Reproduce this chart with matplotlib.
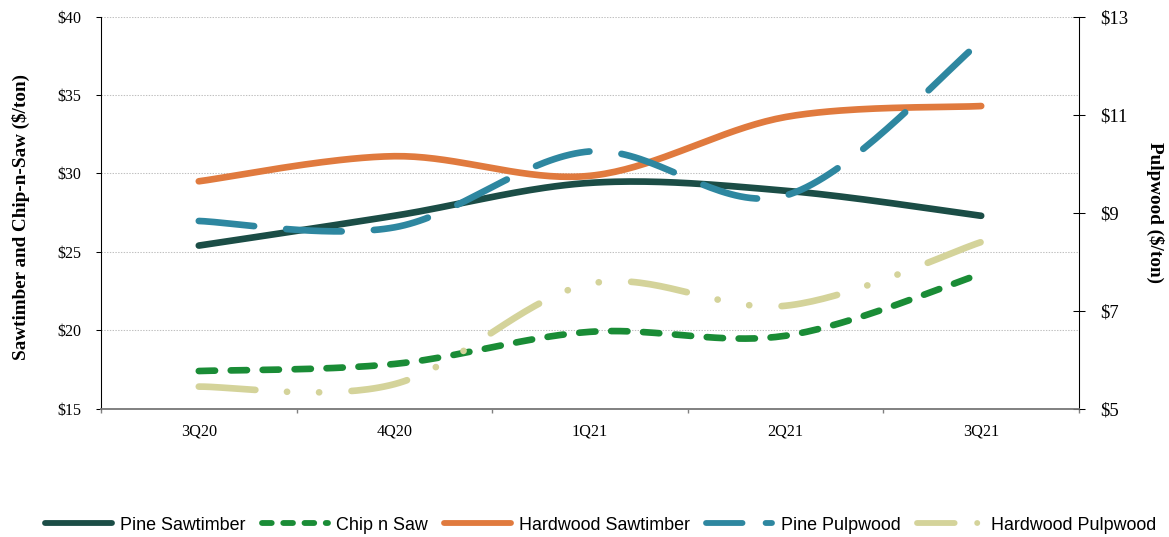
import numpy as np
import matplotlib.pyplot as plt
from matplotlib.lines import Line2D

plt.rcParams['lines.scale_dashes'] = False

quarters = ["3Q20", "4Q20", "1Q21", "2Q21", "3Q21"]

# $/ton, left axis
pine_sawtimber = [25.4, 27.3, 29.4, 28.9, 27.3]
chip_n_saw = [17.4, 17.85, 19.9, 19.65, 23.6]
hardwood_sawtimber = [29.5, 31.1, 29.85, 33.6, 34.3]

# $/ton, right axis
pine_pulpwood = [8.83, 8.7, 10.25, 9.35, 12.5]
hardwood_pulpwood = [5.45, 5.5, 7.55, 7.1, 8.4]


def smooth(vals, n=40):
    # bezier through the points, tangents from neighbouring points
    P = np.column_stack([np.arange(len(vals), dtype=float), np.asarray(vals, float)])
    Pe = np.vstack([P[0], P, P[-1]])
    t = np.linspace(0, 1, n)[:, None]
    out = []
    for i in range(len(P) - 1):
        p0, p3 = P[i], P[i + 1]
        p1 = p0 + (Pe[i + 2] - Pe[i]) / 6
        p2 = p3 - (Pe[i + 3] - Pe[i + 1]) / 6
        seg = (1 - t) ** 3 * p0 + 3 * (1 - t) ** 2 * t * p1 + 3 * (1 - t) * t ** 2 * p2 + t ** 3 * p3
        out.append(seg if i == 0 else seg[1:])
    c = np.vstack(out)
    return c[:, 0], c[:, 1]


c_pine_saw = "#1b4d46"
c_chip = "#1a8c36"
c_hard_saw = "#e07a3e"
c_pine_pulp = "#2e87a0"
c_hard_pulp = "#d4d39a"

chip_dash = (0, (11.7, 11.3))
pine_pulp_dash = (0, (40, 23.2))
hard_pulp_dash = (0, (40.8, 22.8, 0.1, 23, 0.1, 23.3))

lw = 4.8
serif = "Liberation Serif"

fig = plt.figure(figsize=(11.69, 5.37), dpi=100)
ax1 = fig.add_axes([0.0864, 0.239, 0.8366, 0.730])
ax2 = ax1.twinx()

kw = dict(lw=lw, solid_capstyle="round", dash_capstyle="round")
ax1.plot(*smooth(pine_sawtimber), color=c_pine_saw, **kw)
ax1.plot(*smooth(chip_n_saw), color=c_chip, linestyle=chip_dash, **kw)
ax1.plot(*smooth(hardwood_sawtimber), color=c_hard_saw, **kw)
ax2.plot(*smooth(pine_pulpwood), color=c_pine_pulp, linestyle=pine_pulp_dash, **kw)
ax2.plot(*smooth(hardwood_pulpwood), color=c_hard_pulp, linestyle=hard_pulp_dash, **kw)

# x axis: category labels centred, tick marks between categories
ax1.set_xlim(-0.5, len(quarters) - 0.5)
ax1.set_xticks(np.arange(len(quarters) + 1) - 0.5)
ax1.set_xticklabels([])
ax1.set_xticks(np.arange(len(quarters)), minor=True)
ax1.set_xticklabels(quarters, minor=True, fontfamily=serif, fontsize=11.7)
ax1.tick_params(axis="x", which="major", direction="out", length=3, color="#808080", width=1)
ax1.tick_params(axis="x", which="minor", length=0, pad=11)

ax1.set_ylim(15, 40)
ax1.set_yticks([15, 20, 25, 30, 35, 40])
ax1.set_yticklabels(["$15", "$20", "$25", "$30", "$35", "$40"], fontfamily=serif, fontsize=11.5)
ax1.tick_params(axis="y", direction="out", length=3.5, width=0.75, pad=10.5)
ax1.grid(axis="y", color="#c0c0c0", linestyle=(0, (1, 1)), lw=0.75)
ax1.set_axisbelow(True)

ax2.set_ylim(5, 13)
ax2.set_yticks([5, 7, 9, 11, 13])
ax2.set_yticklabels(["$5", "$7", "$9", "$11", "$13"], fontfamily=serif, fontsize=13.4)
ax2.tick_params(axis="y", direction="inout", length=8.5, width=0.75, pad=11)

for ax in (ax1, ax2):
    ax.spines["top"].set_visible(False)
    ax.spines["bottom"].set_color("#808080")
    ax.spines["bottom"].set_linewidth(1.2)
    ax.spines["left"].set_linewidth(0.75)
    ax.spines["right"].set_linewidth(0.75)

ax1.set_ylabel("Sawtimber and Chip-n-Saw ($/ton)", fontfamily=serif, fontsize=13.8, fontweight="bold")
ax1.yaxis.set_label_coords(-0.073, 0.49)
ax2.set_ylabel("Pulpwood ($/ton)", fontfamily=serif, fontsize=13.8, fontweight="bold", rotation=270)
ax2.yaxis.set_label_coords(1.087, 0.5)

# legend keys with shorter dashes than the plotted lines
lkw = dict(lw=4.2, solid_capstyle="round", dash_capstyle="round")
handles = [
    Line2D([], [], color=c_pine_saw, **lkw),
    Line2D([], [], color=c_chip, linestyle=(0, (7, 8.3)), **lkw),
    Line2D([], [], color=c_hard_saw, **lkw),
    Line2D([], [], color=c_pine_pulp, linestyle=(0, (26.3, 16.6)), **lkw),
    Line2D([], [], color=c_hard_pulp, linestyle=(0, (27.1, 16.2, 0.1, 16.2)), **lkw),
]
labels = ["Pine Sawtimber", "Chip n Saw", "Hardwood Sawtimber", "Pine Pulpwood", "Hardwood Pulpwood"]
fig.legend(handles, labels, loc="center", bbox_to_anchor=(0.514, 0.022), ncol=5, frameon=False,
           prop={"family": "Liberation Sans", "size": 12.9}, handlelength=3.7, handletextpad=0.45,
           columnspacing=0.92)

fig.savefig("out.png", dpi=100)
